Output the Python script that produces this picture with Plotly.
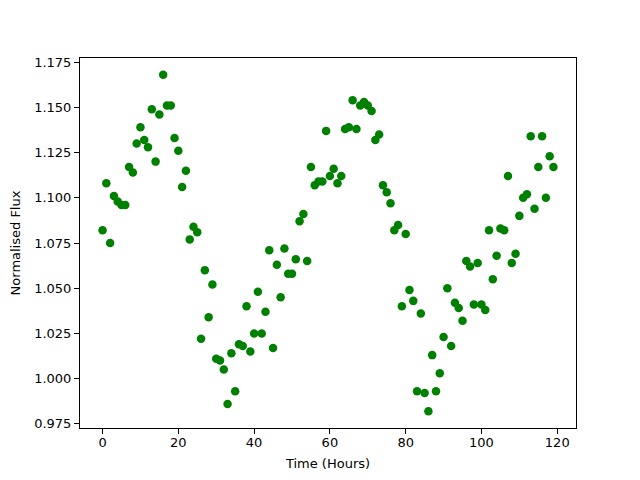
import plotly.graph_objects as go

hours = list(range(120))
flux = [
    1.082, 1.108, 1.075, 1.101, 1.098, 1.096, 1.096, 1.117, 1.114, 1.130,
    1.139, 1.132, 1.128, 1.149, 1.120, 1.146, 1.168, 1.151, 1.151, 1.133,
    1.126, 1.106, 1.115, 1.077, 1.084, 1.081, 1.022, 1.060, 1.034, 1.052,
    1.011, 1.010, 1.005, 0.986, 1.014, 0.993, 1.019, 1.018, 1.040, 1.015,
    1.025, 1.048, 1.025, 1.037, 1.071, 1.017, 1.063, 1.045, 1.072, 1.058,
    1.058, 1.066, 1.087, 1.091, 1.065, 1.117, 1.107, 1.109, 1.109, 1.137,
    1.112, 1.116, 1.108, 1.112, 1.138, 1.139, 1.154, 1.138, 1.151, 1.153,
    1.151, 1.148, 1.132, 1.135, 1.107, 1.103, 1.097, 1.082, 1.085, 1.040,
    1.080, 1.049, 1.043, 0.993, 1.036, 0.992, 0.982, 1.013, 0.993, 1.003,
    1.023, 1.050, 1.018, 1.042, 1.039, 1.032, 1.065, 1.062, 1.041, 1.064,
    1.041, 1.038, 1.082, 1.055, 1.068, 1.083, 1.082, 1.112, 1.064, 1.069,
    1.090, 1.100, 1.102, 1.134, 1.094, 1.117, 1.134, 1.100, 1.123, 1.117,
]
x_ticks = [0, 20, 40, 60, 80, 100, 120]
y_ticks = [0.975, 1.000, 1.025, 1.050, 1.075, 1.100, 1.125, 1.150, 1.175]
y_tick_text = [f"{v:.3f}" for v in y_ticks]

fig = go.Figure(go.Scatter(
    x=hours, y=flux, mode="markers",
    marker=dict(color="#008000", size=8.5, line=dict(width=0)),
))

axis_common = dict(
    showgrid=False, zeroline=False, showline=True, linecolor="black",
    linewidth=1, mirror=True, ticks="outside", ticklen=5, tickwidth=1,
    tickcolor="black", tickfont=dict(size=13, color="black"), automargin=False,
)
fig.update_xaxes(range=[-5.95, 124.95], tickvals=x_ticks, ticklabelstandoff=-3,
                 title=dict(text="Time (Hours)", font=dict(size=13, color="black"), standoff=10),
                 **axis_common)
fig.update_yaxes(range=[0.9727, 1.1773], tickvals=y_ticks, ticktext=y_tick_text,
                 title=dict(text="Normalised Flux", font=dict(size=13, color="black"), standoff=10),
                 **axis_common)
# page body adds an 8px offset, so margins are reduced by 8 on the left/top
fig.update_layout(
    width=640, height=480,
    margin=dict(l=72, r=72, t=50, b=60),
    plot_bgcolor="white", paper_bgcolor="white",
    font=dict(family="DejaVu Sans", color="black"),
    showlegend=False,
)
fig.write_html("out.html")
